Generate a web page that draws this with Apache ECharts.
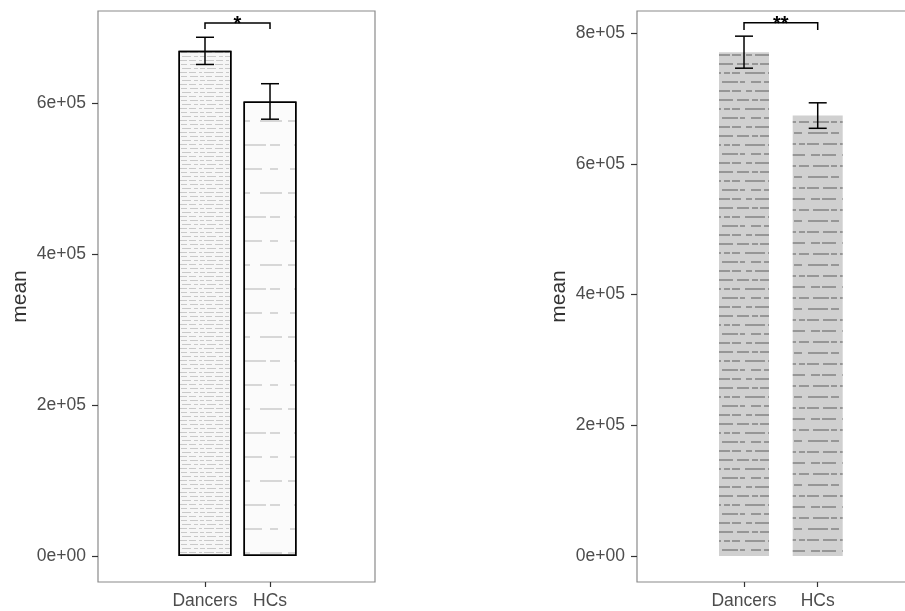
<!DOCTYPE html>
<html>
<head>
<meta charset="utf-8">
<script src="https://cdn.jsdelivr.net/npm/echarts@6/dist/echarts.min.js"></script>
<style>html,body{margin:0;padding:0;background:#fff}#c{width:905px;height:611px}</style>
</head>
<body>
<div id="c"></div>
<script>
const categories = ['Dancers', 'HCs'];
const leftMeans = [669000, 602000];
const leftSE = [18000, 23500];
const rightMeans = [771000, 674000];
const rightSE = [24500, 19500];
const leftYTicks = [0, 200000, 400000, 600000];
const rightYTicks = [0, 200000, 400000, 600000, 800000];
const leftBracket = [706000, 698000];
const rightBracket = [816000, 805000];
const sigLabels = ['*', '**'];
const yTitle = 'mean';

const FONT = 'Liberation Sans, Arial, sans-serif';
function sci(v) {
  const s = Number(v).toExponential(0);
  const m = s.match(/^(-?\d)e([+-])(\d+)$/);
  return m[1] + 'e' + m[2] + (m[3].length < 2 ? '0' + m[3] : m[3]);
}

const leftStyles = [
  {color: '#f6f6f6', borderColor: '#000', borderWidth: 1.5,
   decal: {symbol: 'rect', symbolSize: 1,
     dashArrayX: [[5, 2, 9, 3, 4, 2], [7, 3, 3, 2, 10, 2], [4, 2, 6, 3, 8, 2]],
     dashArrayY: [1, 2.5], color: 'rgba(110,110,110,0.33)'}},
  {color: '#fbfbfb', borderColor: '#000', borderWidth: 1.5,
   decal: {symbol: 'rect', symbolSize: 1,
     dashArrayX: [[22, 6, 14, 10], [10, 14, 26, 4], [30, 8, 8, 12]],
     dashArrayY: [2, 22], color: 'rgba(150,150,150,0.35)'}}
];
const rightStyles = [
  {color: '#d0d0d0', borderWidth: 0,
   decal: {symbol: 'rect', symbolSize: 1,
     dashArrayX: [[12, 3, 6, 2, 18, 4], [8, 5, 20, 3, 6, 2], [16, 2, 5, 6, 10, 3], [6, 3, 14, 2, 9, 5]],
     dashArrayY: [2, 7], color: 'rgba(80,80,80,0.45)'}},
  {color: '#d0d0d0', borderWidth: 0,
   decal: {symbol: 'rect', symbolSize: 1,
     dashArrayX: [[10, 4, 16, 2, 6, 3], [20, 3, 8, 6], [6, 2, 12, 4, 14, 3], [14, 6, 9, 2]],
     dashArrayY: [2, 9], color: 'rgba(80,80,80,0.45)'}}
];

function xAxisFor(gi, min, max) {
  return {
    type: 'value', gridIndex: gi, min: min, max: max,
    axisLine: {show: false, onZero: false},
    splitLine: {show: false},
    axisTick: {show: true, inside: false, length: 5, customValues: [1, 2], lineStyle: {color: '#333', width: 1.2}},
    axisLabel: {customValues: [1, 2], margin: 10, fontSize: 17.5, fontFamily: FONT, color: '#4d4d4d',
      formatter: v => categories[Math.round(v) - 1] || ''}
  };
}
function yAxisFor(gi, min, max, ticks) {
  return {
    type: 'value', gridIndex: gi, min: min, max: max,
    name: yTitle, nameLocation: 'middle', nameGap: 67,
    nameTextStyle: {fontSize: 21, fontFamily: FONT, color: '#333'},
    axisLine: {show: false, onZero: false},
    splitLine: {show: false},
    axisTick: {show: true, inside: false, length: 6, customValues: ticks, lineStyle: {color: '#333', width: 1.2}},
    axisLabel: {customValues: ticks, margin: 12, fontSize: 17.5, fontFamily: FONT, color: '#4d4d4d', formatter: v => sci(v)}
  };
}

function barSeries(gi, means, styles, w) {
  return {
    type: 'bar', xAxisIndex: gi, yAxisIndex: gi, barWidth: w, silent: true,
    data: means.map((m, i) => ({value: [i + 1, m], itemStyle: styles[i]})),
    z: 2
  };
}
function errSeries(gi, means, se) {
  return {
    type: 'custom', xAxisIndex: gi, yAxisIndex: gi, silent: true, z: 5,
    data: means.map((m, i) => [i + 1, m - se[i], m + se[i]]),
    renderItem: function (params, api) {
      const x = api.value(0);
      const lo = api.coord([x, api.value(1)]);
      const hi = api.coord([x, api.value(2)]);
      const hw = 9;
      const st = {stroke: '#000', lineWidth: 1.5};
      return {type: 'group', children: [
        {type: 'line', shape: {x1: lo[0], y1: lo[1], x2: hi[0], y2: hi[1]}, style: st},
        {type: 'line', shape: {x1: hi[0] - hw, y1: hi[1], x2: hi[0] + hw, y2: hi[1]}, style: st},
        {type: 'line', shape: {x1: lo[0] - hw, y1: lo[1], x2: lo[0] + hw, y2: lo[1]}, style: st}
      ]};
    }
  };
}
function bracketSeries(gi, br, label) {
  return {
    type: 'custom', xAxisIndex: gi, yAxisIndex: gi, silent: true, z: 5,
    data: [[1, 2, br[0], br[1]]],
    renderItem: function (params, api) {
      const a = api.coord([api.value(0), api.value(3)]);
      const b = api.coord([api.value(0), api.value(2)]);
      const c = api.coord([api.value(1), api.value(2)]);
      const d = api.coord([api.value(1), api.value(3)]);
      return {type: 'group', children: [
        {type: 'polyline', shape: {points: [a, b, c, d]}, style: {stroke: '#000', lineWidth: 1.5, fill: null}},
        {type: 'text', x: (b[0] + c[0]) / 2, y: b[1] + 2,
         style: {text: label, fontSize: 20, fontWeight: 'bold', fontFamily: FONT, fill: '#000', align: 'center', verticalAlign: 'middle'}}
      ]};
    }
  };
}

const chart = echarts.init(document.getElementById('c'), null, {renderer: 'canvas'});
chart.setOption({
  animation: false,
  backgroundColor: '#fff',
  aria: {enabled: true, decal: {show: true}},
  grid: [
    {left: 98, top: 11, width: 277, height: 571, outerBoundsMode: 'none', show: true, borderColor: '#8a8a8a', borderWidth: 1.2, backgroundColor: 'transparent'},
    {left: 637, top: 11, width: 285, height: 571, outerBoundsMode: 'none', show: true, borderColor: '#8a8a8a', borderWidth: 1.2, backgroundColor: 'transparent'}
  ],
  xAxis: [xAxisFor(0, -0.646, 3.615), xAxisFor(1, -0.452, 3.415)],
  yAxis: [yAxisFor(0, -34400, 721800, leftYTicks), yAxisFor(1, -39800, 834000, rightYTicks)],
  series: [
    barSeries(0, leftMeans, leftStyles, 53),
    errSeries(0, leftMeans, leftSE),
    bracketSeries(0, leftBracket, sigLabels[0]),
    barSeries(1, rightMeans, rightStyles, 50),
    errSeries(1, rightMeans, rightSE),
    bracketSeries(1, rightBracket, sigLabels[1])
  ]
});
</script>
</body>
</html>
